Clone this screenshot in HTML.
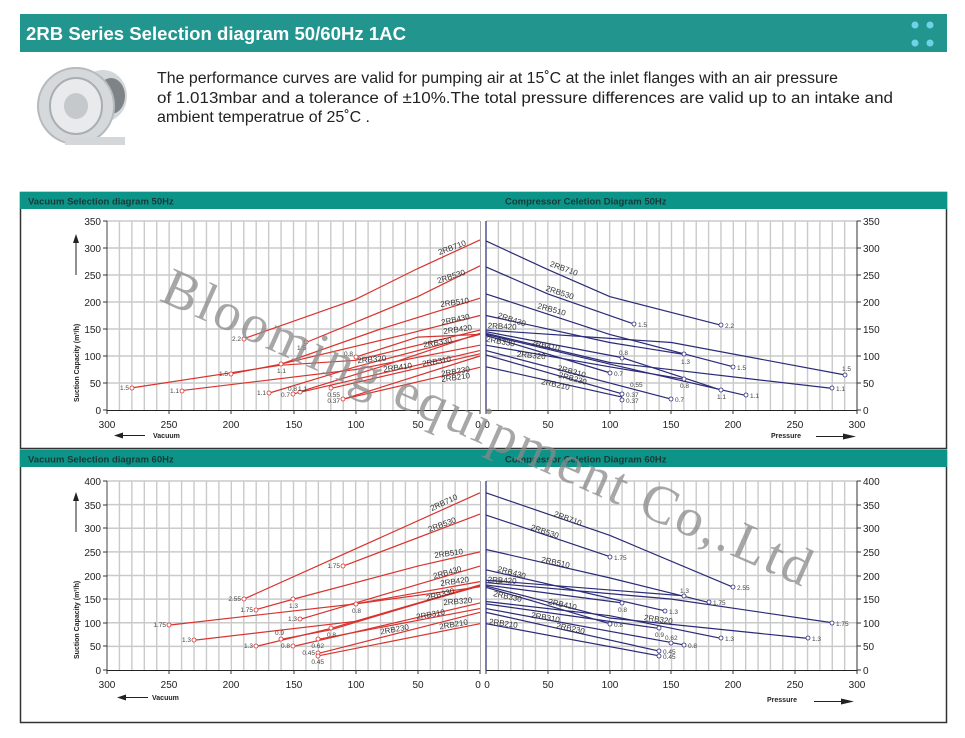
<!DOCTYPE html>
<html><head><meta charset="utf-8"><style>
html,body{margin:0;padding:0;background:#fff;width:965px;height:738px;overflow:hidden}
svg{display:block;font-family:"Liberation Sans",Arial,sans-serif}
</style></head><body>
<svg width="965" height="738" viewBox="0 0 965 738" xmlns="http://www.w3.org/2000/svg">
<defs>
<style>
.g{stroke:#cacaca;stroke-width:1.4;fill:none;vector-effect:non-scaling-stroke}
.r{stroke:#d9332e;stroke-width:1.2;fill:none;vector-effect:non-scaling-stroke}
.b{stroke:#2a2a78;stroke-width:1.2;fill:none;vector-effect:non-scaling-stroke}
.t{font-size:10px;fill:#222}
.s{font-size:8px;fill:#333}
.p{font-size:6.5px;fill:#444}
.cr{fill:#fff;stroke:#d9332e;stroke-width:0.8}
.cb{fill:#fff;stroke:#2a2a78;stroke-width:0.8}
</style>
</defs>
<!-- main header -->
<rect x="20" y="14" width="927" height="38" fill="#22958f"/>
<text x="26" y="40" font-size="18" font-weight="bold" fill="#fff" textLength="380" lengthAdjust="spacingAndGlyphs">2RB Series Selection diagram 50/60Hz 1AC</text>
<circle cx="915" cy="25" r="3.5" fill="#6fd3e8"/><circle cx="930" cy="25" r="3.5" fill="#6fd3e8"/>
<circle cx="915" cy="43" r="3.5" fill="#6fd3e8"/><circle cx="930" cy="43" r="3.5" fill="#6fd3e8"/>
<!-- blower picture -->
<g>
<ellipse cx="103" cy="96" rx="24" ry="26" fill="#d4d7d9"/>
<ellipse cx="111" cy="96" rx="14" ry="18" fill="#7d8387"/>
<ellipse cx="76" cy="106" rx="38" ry="38" fill="#d6d9db" stroke="#b5babd" stroke-width="2"/>
<ellipse cx="76" cy="106" rx="26" ry="28" fill="#e8eaeb" stroke="#a9aeb1" stroke-width="2"/>
<ellipse cx="76" cy="106" rx="12" ry="13" fill="#c6c9cc"/>
<rect x="65" y="137" width="60" height="8" fill="#d4d7d9"/>
</g>
<text font-size="15.5" fill="#222"><tspan x="157" y="83" textLength="681" lengthAdjust="spacingAndGlyphs">The performance curves are valid for pumping air at 15˚C at the inlet flanges with an air pressure</tspan><tspan x="157" y="103" textLength="736" lengthAdjust="spacingAndGlyphs">of 1.013mbar and a tolerance of ±10%.The total pressure differences are valid up to an intake and</tspan><tspan x="157" y="122" textLength="213" lengthAdjust="spacingAndGlyphs">ambient temperatrue of 25˚C .</tspan></text>

<!-- panel frames -->
<rect x="20.5" y="192.5" width="926" height="256" fill="#fff" stroke="#333" stroke-width="1.5"/>
<rect x="20.5" y="450.5" width="926" height="272" fill="#fff" stroke="#333" stroke-width="1.5"/>
<rect x="20" y="192" width="927" height="17" fill="#0d9489"/>
<rect x="20" y="450" width="927" height="17" fill="#0d9489"/>
<text x="28" y="204.5" font-size="9.5" font-weight="bold" fill="#173a38">Vacuum Selection diagram 50Hz</text>
<text x="505" y="204.5" font-size="9.5" font-weight="bold" fill="#173a38">Compressor Celetion Diagram 50Hz</text>
<text x="28" y="462.5" font-size="9.5" font-weight="bold" fill="#173a38">Vacuum Selection diagram 60Hz</text>
<text x="505" y="462.5" font-size="9.5" font-weight="bold" fill="#173a38">Compressor Celetion Diagram 60Hz</text>

<!-- ============ TOP LEFT ============ -->
<svg x="107" y="221" width="373" height="189" viewBox="0 0 300 350" preserveAspectRatio="none" overflow="visible">
<path class="g" d="M10 0V350M20 0V350M30 0V350M40 0V350M50 0V350M60 0V350M70 0V350M80 0V350M90 0V350M100 0V350M110 0V350M120 0V350M130 0V350M140 0V350M150 0V350M160 0V350M170 0V350M180 0V350M190 0V350M200 0V350M210 0V350M220 0V350M230 0V350M240 0V350M250 0V350M260 0V350M270 0V350M280 0V350M290 0V350M0 0H300M0 50H300M0 100H300M0 150H300M0 200H300M0 250H300M0 300H300"/>
<g transform="translate(300,350) scale(-1,-1)">
<path class="r" d="M190 132L100 205L50 262L0 315"/>
<path class="r" d="M140 125L50 210L0 267"/>
<path class="r" d="M200 67L160 85L80 150L0 207"/>
<path class="r" d="M160 85L60 140L0 175"/>
<path class="r" d="M280 41L160 83L100 92L0 148"/>
<path class="r" d="M240 36L100 75L0 120"/>
<path class="r" d="M100 98L50 135L0 140"/>
<path class="r" d="M170 31L100 80L0 140"/>
<path class="r" d="M145 34L80 80L0 142"/>
<path class="r" d="M150 30L0 110"/>
<path class="r" d="M120 40L0 104"/>
<path class="r" d="M110 20L0 79"/>
<path class="r" d="M110 20L0 100"/>
</g>
</svg>
<line x1="107" y1="221" x2="107" y2="410" stroke="#444" stroke-width="1"/>
<line x1="107" y1="410.5" x2="480" y2="410.5" stroke="#222" stroke-width="1"/>
<line x1="480.5" y1="221" x2="480.5" y2="410" stroke="#aaa" stroke-width="1"/>
<g stroke="#333"><path d="M103 221H107M103 248H107M103 275H107M103 302H107M103 329H107M103 356H107M103 383H107M103 410H107M107 410V414M169 410V414M231 410V414M294 410V414M356 410V414M418 410V414M480 410V414"/></g>
<g class="t" text-anchor="end"><text x="101" y="225">350</text><text x="101" y="252">300</text><text x="101" y="279">250</text><text x="101" y="306">200</text><text x="101" y="333">150</text><text x="101" y="360">100</text><text x="101" y="387">50</text><text x="101" y="414">0</text></g>
<g class="t" text-anchor="middle"><text x="107" y="428">300</text><text x="169" y="428">250</text><text x="231" y="428">200</text><text x="294" y="428">150</text><text x="356" y="428">100</text><text x="418" y="428">50</text><text x="478" y="428">0</text></g>
<text transform="translate(79,402) rotate(-90)" font-size="7" font-weight="bold" fill="#222">Suction Capacity   (m³/h)</text>
<path d="M76 275V240" stroke="#222" stroke-width="1"/><path d="M73 243L76 234L79 243Z" fill="#222"/>
<path d="M145 435.5H120" stroke="#222" stroke-width="1"/><path d="M123 432.5L114 435.5L123 438.5Z" fill="#222"/>
<text x="153" y="438" font-size="7" font-weight="bold" fill="#222">Vacuum</text>
<g class="s">
<text transform="translate(453,250) rotate(-20)" text-anchor="middle">2RB710</text>
<text transform="translate(452,279) rotate(-18)" text-anchor="middle">2RB530</text>
<text transform="translate(455,305) rotate(-8)" text-anchor="middle">2RB510</text>
<text transform="translate(456,322) rotate(-12)" text-anchor="middle">2RB430</text>
<text transform="translate(458,332) rotate(-8)" text-anchor="middle">2RB420</text>
<text transform="translate(438,345) rotate(-10)" text-anchor="middle">2RB330</text>
<text transform="translate(372,362) rotate(-5)" text-anchor="middle">2RB320</text>
<text transform="translate(398,370) rotate(-8)" text-anchor="middle">2RB410</text>
<text transform="translate(437,364) rotate(-10)" text-anchor="middle">2RB310</text>
<text transform="translate(456,374) rotate(-10)" text-anchor="middle">2RB230</text>
<text transform="translate(456,380) rotate(-8)" text-anchor="middle">2RB210</text>
</g>
<g><circle class="cr" cx="132" cy="388" r="2"/><circle class="cr" cx="182" cy="391" r="2"/><circle class="cr" cx="244" cy="339" r="2"/><circle class="cr" cx="306" cy="342" r="2"/><circle class="cr" cx="231" cy="374" r="2"/><circle class="cr" cx="281" cy="364" r="2"/><circle class="cr" cx="269" cy="393" r="2"/><circle class="cr" cx="300" cy="392" r="2"/><circle class="cr" cx="293" cy="394" r="2"/><circle class="cr" cx="356" cy="357" r="2"/><circle class="cr" cx="331" cy="388" r="2"/><circle class="cr" cx="343" cy="399" r="2"/></g>
<g class="p" text-anchor="end"><text x="129" y="390">1.5</text><text x="179" y="393">1.1</text><text x="241" y="341">2.2</text><text x="306" y="350">1.5</text><text x="228" y="376">1.5</text><text x="286" y="373">1.1</text><text x="266" y="395">1.1</text><text x="297" y="391">0.8</text><text x="307" y="391">1.1</text><text x="290" y="397">0.7</text><text x="353" y="356">0.8</text><text x="340" y="397">0.55</text><text x="340" y="403">0.37</text></g>

<!-- ============ TOP RIGHT ============ -->
<svg x="486" y="221" width="371" height="189" viewBox="0 0 300 350" preserveAspectRatio="none" overflow="visible">
<path class="g" d="M10 0V350M20 0V350M30 0V350M40 0V350M50 0V350M60 0V350M70 0V350M80 0V350M90 0V350M100 0V350M110 0V350M120 0V350M130 0V350M140 0V350M150 0V350M160 0V350M170 0V350M180 0V350M190 0V350M200 0V350M210 0V350M220 0V350M230 0V350M240 0V350M250 0V350M260 0V350M270 0V350M280 0V350M290 0V350M0 0H300M0 50H300M0 100H300M0 150H300M0 200H300M0 250H300M0 300H300"/>
<g transform="translate(0,350) scale(1,-1)">
<path class="b" d="M0 313L50 260L100 210L190 157"/>
<path class="b" d="M0 265L50 215L120 159"/>
<path class="b" d="M0 215L100 140L200 80"/>
<path class="b" d="M0 175L100 125L160 103"/>
<path class="b" d="M0 148L150 125L290 65"/>
<path class="b" d="M0 145L110 97L190 37"/>
<path class="b" d="M0 142L100 88L280 40"/>
<path class="b" d="M0 138L100 69"/>
<path class="b" d="M0 140L100 85L210 27"/>
<path class="b" d="M0 120L100 80L160 57"/>
<path class="b" d="M0 110L150 20"/>
<path class="b" d="M0 102L110 30"/>
<path class="b" d="M0 80L110 24"/>
</g>
</svg>
<line x1="486" y1="221" x2="486" y2="410" stroke="#2a2a78" stroke-width="1.2"/>
<line x1="486" y1="410.5" x2="857" y2="410.5" stroke="#222" stroke-width="1"/>
<line x1="857" y1="221" x2="857" y2="410" stroke="#333" stroke-width="1"/>
<g stroke="#333"><path d="M857 221H861M857 248H861M857 275H861M857 302H861M857 329H861M857 356H861M857 383H861M857 410H861M486 410V414M548 410V414M610 410V414M671 410V414M733 410V414M795 410V414M857 410V414"/></g>
<g class="t"><text x="863" y="225">350</text><text x="863" y="252">300</text><text x="863" y="279">250</text><text x="863" y="306">200</text><text x="863" y="333">150</text><text x="863" y="360">100</text><text x="863" y="387">50</text><text x="863" y="414">0</text></g>
<g class="t" text-anchor="middle"><text x="487" y="428">0</text><text x="548" y="428">50</text><text x="610" y="428">100</text><text x="671" y="428">150</text><text x="733" y="428">200</text><text x="795" y="428">250</text><text x="857" y="428">300</text></g>
<text x="771" y="438" font-size="7" font-weight="bold" fill="#222">Pressure</text>
<path d="M816 436.5H845" stroke="#222" stroke-width="1"/><path d="M843 433.5L856 436.5L843 439.5Z" fill="#222"/>
<g class="s">
<text transform="translate(563,271) rotate(20)" text-anchor="middle">2RB710</text>
<text transform="translate(559,295) rotate(18)" text-anchor="middle">2RB530</text>
<text transform="translate(551,312) rotate(15)" text-anchor="middle">2RB510</text>
<text transform="translate(511,322) rotate(18)" text-anchor="middle">2RB430</text>
<text transform="translate(502,329) rotate(3)" text-anchor="middle">2RB420</text>
<text transform="translate(500,344) rotate(10)" text-anchor="middle">2RB330</text>
<text transform="translate(545,348) rotate(12)" text-anchor="middle">2RB410</text>
<text transform="translate(531,358) rotate(5)" text-anchor="middle">2RB320</text>
<text transform="translate(571,374) rotate(15)" text-anchor="middle">2RB310</text>
<text transform="translate(572,381) rotate(15)" text-anchor="middle">2RB230</text>
<text transform="translate(555,387) rotate(12)" text-anchor="middle">2RB210</text>
</g>
<g><circle class="cb" cx="721" cy="325" r="2"/><circle class="cb" cx="634" cy="324" r="2"/><circle class="cb" cx="733" cy="367" r="2"/><circle class="cb" cx="684" cy="354" r="2"/><circle class="cb" cx="845" cy="375" r="2"/><circle class="cb" cx="832" cy="388" r="2"/><circle class="cb" cx="622" cy="358" r="2"/><circle class="cb" cx="610" cy="373" r="2"/><circle class="cb" cx="684" cy="379" r="2"/><circle class="cb" cx="721" cy="390" r="2"/><circle class="cb" cx="746" cy="395" r="2"/><circle class="cb" cx="622" cy="394" r="2"/><circle class="cb" cx="622" cy="400" r="2"/><circle class="cb" cx="671" cy="399" r="2"/></g>
<g class="p"><text x="725" y="328">2.2</text><text x="638" y="327">1.5</text><text x="737" y="370">1.5</text><text x="681" y="364">1.3</text><text x="842" y="371">1.5</text><text x="836" y="391">1.1</text><text x="619" y="355">0.8</text><text x="614" y="376">0.7</text><text x="680" y="388">0.8</text><text x="717" y="399">1.1</text><text x="750" y="398">1.1</text><text x="626" y="397">0.37</text><text x="630" y="387">0.55</text><text x="626" y="403">0.37</text><text x="675" y="402">0.7</text></g>

<!-- ============ BOTTOM LEFT ============ -->
<svg x="107" y="481" width="373" height="189" viewBox="0 0 300 400" preserveAspectRatio="none" overflow="visible">
<path class="g" d="M10 0V400M20 0V400M30 0V400M40 0V400M50 0V400M60 0V400M70 0V400M80 0V400M90 0V400M100 0V400M110 0V400M120 0V400M130 0V400M140 0V400M150 0V400M160 0V400M170 0V400M180 0V400M190 0V400M200 0V400M210 0V400M220 0V400M230 0V400M240 0V400M250 0V400M260 0V400M270 0V400M280 0V400M290 0V400M0 0H300M0 50H300M0 100H300M0 150H300M0 200H300M0 250H300M0 300H300M0 350H300"/>
<g transform="translate(300,400) scale(-1,-1)">
<path class="r" d="M190 150L0 375"/>
<path class="r" d="M110 220L0 330"/>
<path class="r" d="M180 128L150 150L50 220L0 250"/>
<path class="r" d="M145 107L0 220"/>
<path class="r" d="M250 95L150 125L100 140L0 187"/>
<path class="r" d="M180 50L120 88L0 180"/>
<path class="r" d="M230 63L100 103L0 178"/>
<path class="r" d="M100 140L0 176"/>
<path class="r" d="M160 65L120 85L0 180"/>
<path class="r" d="M150 50L0 142"/>
<path class="r" d="M130 65L0 130"/>
<path class="r" d="M130 35L0 122"/>
<path class="r" d="M130 30L0 98"/>
</g>
</svg>
<line x1="107" y1="481" x2="107" y2="670" stroke="#444" stroke-width="1"/>
<line x1="107" y1="670.5" x2="480" y2="670.5" stroke="#222" stroke-width="1"/>
<line x1="480.5" y1="481" x2="480.5" y2="670" stroke="#aaa" stroke-width="1"/>
<g stroke="#333"><path d="M103 481H107M103 505H107M103 528H107M103 552H107M103 576H107M103 599H107M103 623H107M103 646H107M103 670H107M107 670V674M169 670V674M231 670V674M294 670V674M356 670V674M418 670V674M480 670V674"/></g>
<g class="t" text-anchor="end"><text x="101" y="485">400</text><text x="101" y="509">350</text><text x="101" y="532">300</text><text x="101" y="556">250</text><text x="101" y="580">200</text><text x="101" y="603">150</text><text x="101" y="627">100</text><text x="101" y="650">50</text><text x="101" y="674">0</text></g>
<g class="t" text-anchor="middle"><text x="107" y="688">300</text><text x="169" y="688">250</text><text x="231" y="688">200</text><text x="294" y="688">150</text><text x="356" y="688">100</text><text x="418" y="688">50</text><text x="478" y="688">0</text></g>
<text transform="translate(79,659) rotate(-90)" font-size="7" font-weight="bold" fill="#222">Suction Capacity   (m³/h)</text>
<path d="M76 532V498" stroke="#222" stroke-width="1"/><path d="M73 501L76 492L79 501Z" fill="#222"/>
<path d="M148 697.5H123" stroke="#222" stroke-width="1"/><path d="M126 694.5L117 697.5L126 700.5Z" fill="#222"/>
<text x="152" y="700" font-size="7" font-weight="bold" fill="#222">Vacuum</text>
<g class="s">
<text transform="translate(445,505) rotate(-25)" text-anchor="middle">2RB710</text>
<text transform="translate(443,527) rotate(-20)" text-anchor="middle">2RB530</text>
<text transform="translate(449,556) rotate(-8)" text-anchor="middle">2RB510</text>
<text transform="translate(448,575) rotate(-15)" text-anchor="middle">2RB430</text>
<text transform="translate(455,584) rotate(-8)" text-anchor="middle">2RB420</text>
<text transform="translate(441,597) rotate(-15)" text-anchor="middle">2RB330</text>
<text transform="translate(458,604) rotate(-5)" text-anchor="middle">2RB320</text>
<text transform="translate(431,617) rotate(-10)" text-anchor="middle">2RB310</text>
<text transform="translate(395,632) rotate(-10)" text-anchor="middle">2RB230</text>
<text transform="translate(454,627) rotate(-10)" text-anchor="middle">2RB210</text>
</g>
<g><circle class="cr" cx="244" cy="599" r="2"/><circle class="cr" cx="343" cy="566" r="2"/><circle class="cr" cx="256" cy="610" r="2"/><circle class="cr" cx="293" cy="599" r="2"/><circle class="cr" cx="300" cy="619" r="2"/><circle class="cr" cx="169" cy="625" r="2"/><circle class="cr" cx="194" cy="640" r="2"/><circle class="cr" cx="256" cy="646" r="2"/><circle class="cr" cx="356" cy="604" r="2"/><circle class="cr" cx="281" cy="639" r="2"/><circle class="cr" cx="293" cy="646" r="2"/><circle class="cr" cx="331" cy="628" r="2"/><circle class="cr" cx="318" cy="639" r="2"/><circle class="cr" cx="318" cy="653" r="2"/><circle class="cr" cx="318" cy="656" r="2"/></g>
<g class="p" text-anchor="end"><text x="241" y="601">2.55</text><text x="340" y="568">1.75</text><text x="253" y="612">1.75</text><text x="298" y="608">1.3</text><text x="297" y="621">1.3</text><text x="166" y="627">1.75</text><text x="191" y="642">1.3</text><text x="253" y="648">1.3</text><text x="361" y="613">0.8</text><text x="284" y="635">0.9</text><text x="290" y="648">0.8</text><text x="336" y="637">0.8</text><text x="324" y="648">0.62</text><text x="315" y="655">0.45</text><text x="324" y="664">0.45</text></g>

<!-- ============ BOTTOM RIGHT ============ -->
<svg x="486" y="481" width="371" height="189" viewBox="0 0 300 400" preserveAspectRatio="none" overflow="visible">
<path class="g" d="M10 0V400M20 0V400M30 0V400M40 0V400M50 0V400M60 0V400M70 0V400M80 0V400M90 0V400M100 0V400M110 0V400M120 0V400M130 0V400M140 0V400M150 0V400M160 0V400M170 0V400M180 0V400M190 0V400M200 0V400M210 0V400M220 0V400M230 0V400M240 0V400M250 0V400M260 0V400M270 0V400M280 0V400M290 0V400M0 0H300M0 50H300M0 100H300M0 150H300M0 200H300M0 250H300M0 300H300M0 350H300"/>
<g transform="translate(0,400) scale(1,-1)">
<path class="b" d="M0 375L100 285L200 175"/>
<path class="b" d="M0 328L100 240"/>
<path class="b" d="M0 255L100 195L180 143"/>
<path class="b" d="M0 212L145 125"/>
<path class="b" d="M0 185L150 150L280 100"/>
<path class="b" d="M0 190L160 157"/>
<path class="b" d="M0 180L110 142"/>
<path class="b" d="M0 178L100 110L260 67"/>
<path class="b" d="M0 175L100 98"/>
<path class="b" d="M0 145L100 115L190 67"/>
<path class="b" d="M0 140L140 88"/>
<path class="b" d="M0 130L150 58L160 53"/>
<path class="b" d="M0 122L140 40"/>
<path class="b" d="M0 98L140 30"/>
</g>
</svg>
<line x1="486" y1="481" x2="486" y2="670" stroke="#2a2a78" stroke-width="1.2"/>
<line x1="486" y1="670.5" x2="857" y2="670.5" stroke="#222" stroke-width="1"/>
<line x1="857" y1="481" x2="857" y2="670" stroke="#333" stroke-width="1"/>
<g stroke="#333"><path d="M857 481H861M857 505H861M857 528H861M857 552H861M857 576H861M857 599H861M857 623H861M857 646H861M857 670H861M486 670V674M548 670V674M610 670V674M671 670V674M733 670V674M795 670V674M857 670V674"/></g>
<g class="t"><text x="863" y="485">400</text><text x="863" y="509">350</text><text x="863" y="532">300</text><text x="863" y="556">250</text><text x="863" y="580">200</text><text x="863" y="603">150</text><text x="863" y="627">100</text><text x="863" y="650">50</text><text x="863" y="674">0</text></g>
<g class="t" text-anchor="middle"><text x="487" y="688">0</text><text x="548" y="688">50</text><text x="610" y="688">100</text><text x="671" y="688">150</text><text x="733" y="688">200</text><text x="795" y="688">250</text><text x="857" y="688">300</text></g>
<text x="767" y="702" font-size="7" font-weight="bold" fill="#222">Pressure</text>
<path d="M814 701.5H843" stroke="#222" stroke-width="1"/><path d="M841 698.5L854 701.5L841 704.5Z" fill="#222"/>
<g class="s">
<text transform="translate(567,521) rotate(20)" text-anchor="middle">2RB710</text>
<text transform="translate(544,534) rotate(18)" text-anchor="middle">2RB530</text>
<text transform="translate(555,565) rotate(12)" text-anchor="middle">2RB510</text>
<text transform="translate(511,575) rotate(15)" text-anchor="middle">2RB430</text>
<text transform="translate(502,583) rotate(3)" text-anchor="middle">2RB420</text>
<text transform="translate(507,599) rotate(12)" text-anchor="middle">2RB330</text>
<text transform="translate(562,607) rotate(12)" text-anchor="middle">2RB410</text>
<text transform="translate(658,622) rotate(8)" text-anchor="middle">2RB320</text>
<text transform="translate(545,620) rotate(10)" text-anchor="middle">2RB310</text>
<text transform="translate(570,631) rotate(12)" text-anchor="middle">2RB230</text>
<text transform="translate(503,626) rotate(8)" text-anchor="middle">2RB210</text>
</g>
<g><circle class="cb" cx="733" cy="587" r="2"/><circle class="cb" cx="610" cy="557" r="2"/><circle class="cb" cx="709" cy="602" r="2"/><circle class="cb" cx="665" cy="611" r="2"/><circle class="cb" cx="832" cy="623" r="2"/><circle class="cb" cx="684" cy="596" r="2"/><circle class="cb" cx="622" cy="603" r="2"/><circle class="cb" cx="808" cy="638" r="2"/><circle class="cb" cx="610" cy="624" r="2"/><circle class="cb" cx="721" cy="638" r="2"/><circle class="cb" cx="659" cy="628" r="2"/><circle class="cb" cx="671" cy="643" r="2"/><circle class="cb" cx="684" cy="645" r="2"/><circle class="cb" cx="659" cy="651" r="2"/><circle class="cb" cx="659" cy="656" r="2"/></g>
<g class="p"><text x="737" y="590">2.55</text><text x="614" y="560">1.75</text><text x="713" y="605">1.75</text><text x="669" y="614">1.3</text><text x="836" y="626">1.75</text><text x="680" y="593">1.3</text><text x="618" y="612">0.8</text><text x="812" y="641">1.3</text><text x="614" y="627">0.8</text><text x="725" y="641">1.3</text><text x="655" y="637">0.9</text><text x="665" y="640">0.62</text><text x="688" y="648">0.8</text><text x="663" y="654">0.45</text><text x="663" y="659">0.45</text></g>

<!-- watermark -->
<text x="158" y="300" transform="rotate(24,158,300)" font-family="Liberation Serif,serif" font-size="54" fill="#8a8a8a" fill-opacity="0.75" textLength="705" lengthAdjust="spacing">Blooming equipment Co,.Ltd</text>
</svg>
</body></html>
